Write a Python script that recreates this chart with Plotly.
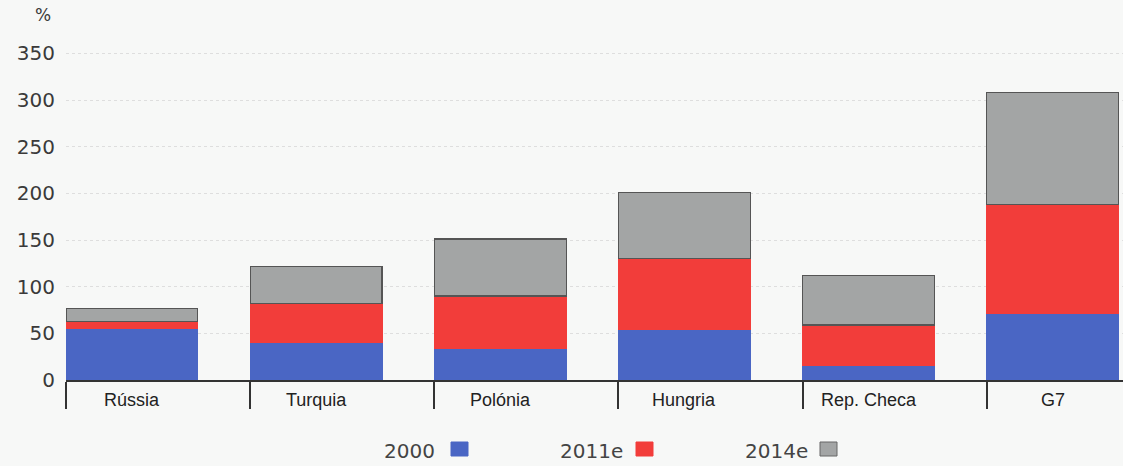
import plotly.graph_objects as go

categories = ["Rússia", "Turquia", "Polónia", "Hungria", "Rep. Checa", "G7"]
series_names = ["2000", "2011e", "2014e"]
v2000 = [55, 40, 34, 54, 16, 71]
v2011 = [8, 42, 56, 76, 43, 117]
v2014 = [14, 40, 61, 71, 53, 120]
y_ticks = [0, 50, 100, 150, 200, 250, 300, 350]

colors = ["#4a66c4", "#f23d3a", "#a3a5a5"]
bar_w = 0.716
slot_pos = list(range(len(categories)))

fig = go.Figure()
for name, vals, col in zip(series_names, [v2000, v2011, v2014], colors):
    fig.add_trace(go.Bar(
        x=slot_pos, y=vals, name=name, offset=0, width=bar_w,
        marker=dict(color=col, line=dict(color="#555555" if name == "2014e" else col, width=1.2)),
        showlegend=False,
    ))

annotations = []
for i, c in enumerate(categories):
    annotations.append(dict(x=i + bar_w / 2, y=0, xref="x", yref="y", text=c, showarrow=False,
                            yshift=-20, font=dict(family="Liberation Sans, Arial", size=18, color="#222222")))
annotations.append(dict(x=-0.022, y=1.086, xref="paper", yref="paper", text="%", showarrow=False,
                        xanchor="center", yanchor="middle",
                        font=dict(family="DejaVu Sans", size=17, color="#3a3a3a")))

# custom legend: label then swatch
legend_items = [(series_names[0], colors[0], 437, 451), (series_names[1], colors[1], 625, 636),
                (series_names[2], colors[2], 810, 820)]
shapes = []
L, PW = 66, 1057
for name, col, txt_right, sw_left in legend_items:
    annotations.append(dict(x=(txt_right - L) / PW, y=(380 - 451) / 336, xref="paper", yref="paper",
                            text=name, showarrow=False, xanchor="right", yanchor="middle",
                            font=dict(family="DejaVu Sans", size=20, color="#444444")))
    shapes.append(dict(type="rect", xref="paper", yref="paper",
                       x0=(sw_left - L) / PW, x1=(sw_left + 17 - L) / PW,
                       y0=(380 - 456) / 336, y1=(380 - 442) / 336,
                       fillcolor=col, line=dict(color="#666666" if name == "2014e" else col, width=1)))

fig.update_layout(
    width=1123, height=466,
    barmode="stack",
    paper_bgcolor="#f7f8f7", plot_bgcolor="#f7f8f7",
    margin=dict(l=66, r=0, t=44, b=86),
    annotations=annotations, shapes=shapes,
    xaxis=dict(range=[0, 5.74], tickvals=slot_pos, ticktext=[""] * len(slot_pos),
               ticks="outside", ticklen=27, tickwidth=2, tickcolor="#333333",
               showline=True, linecolor="#333333", linewidth=2, showgrid=False, zeroline=False,
               fixedrange=True),
    yaxis=dict(range=[0, 360], tickvals=y_ticks, ticks="", showline=False,
               gridcolor="#dedede", griddash="dot", gridwidth=1, zeroline=False,
               tickfont=dict(family="DejaVu Sans", size=20, color="#3a3a3a"),
               ticklabelstandoff=10),
)

fig.write_html("out.html", config={"displayModeBar": False},
               post_script="document.body.style.margin='0px';document.body.style.overflow='hidden';")
